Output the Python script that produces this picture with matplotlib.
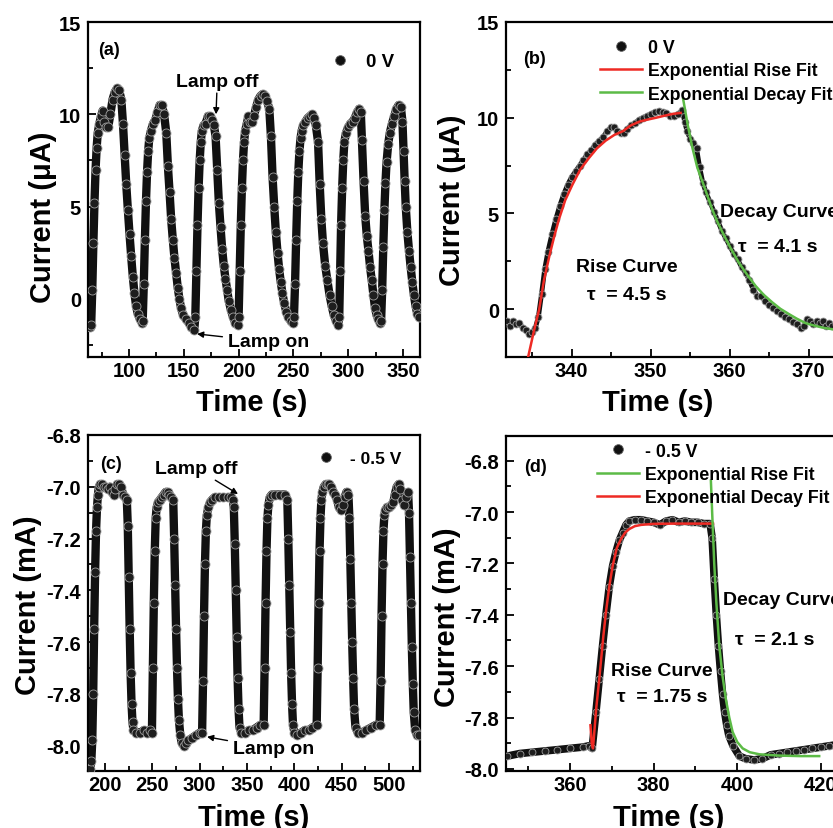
import matplotlib
matplotlib.use("Agg")
import matplotlib.pyplot as plt
from matplotlib.lines import Line2D
from matplotlib.ticker import MultipleLocator, FormatStrFormatter

plt.rcParams['font.family'] = ['Liberation Sans', 'DejaVu Sans']
plt.rcParams['font.weight'] = 'bold'
plt.rcParams['axes.labelweight'] = 'bold'

# ---------------- data: panel (a), 0 V, on/off cycles ----------------
a_time = [64, 65.5, 66.5, 67.5, 68.5, 69.5, 70.5, 71.5, 73, 74.5, 76, 77.5, 79, 81, 83, 85, 87, 89, 91, 93,
          94.5, 96, 97.5, 99, 100.5, 102, 103.5, 105, 106.5, 108, 110, 112,
          112.5, 113.5, 114.5, 115.5, 116.5, 117.5, 118.5, 120, 122, 124, 126, 128, 130, 132,
          134, 135.5, 137, 138.5, 140, 141.5, 143, 144.5, 146, 147.5, 149.5, 152, 154.5, 157, 159.5,
          160.5, 161.5, 162.5, 163.5, 164.5, 165.5, 166.5, 168, 170, 172, 174, 176, 177.5,
          179, 180.5, 182, 183.5, 185, 186.5, 188, 189.5, 191, 193, 195, 197, 199,
          200, 201, 202, 203, 204, 205, 206, 207.5, 209, 210.5, 212, 214, 216, 218, 220, 222, 224, 226, 228,
          229.5, 231, 232.5, 234, 235.5, 237, 238.5, 240, 241.5, 243.5, 245.5, 247.5, 249.5,
          250.5, 251.5, 252.5, 253.5, 254.5, 255.5, 256.5, 257.5, 259, 261, 263, 265, 267, 269, 270.5,
          272.5, 274, 275.5, 277, 279, 281, 283, 285, 287, 289, 291,
          291.8, 292.6, 293.5, 294.5, 295.5, 296.5, 298, 300, 302, 304, 306, 308, 310, 311.5,
          312.5, 314, 315.5, 317, 318.5, 320, 321.5, 323, 324.5, 326, 327.5, 329,
          330, 331, 332, 333, 334, 335, 336.5, 338, 340, 342, 344, 346, 348, 349.5,
          350.5, 351.5, 352.5, 354, 355.5, 357, 358.5, 360, 361.5, 363, 365]
a_curr = [-1.5, -1.4, 0.5, 3.0, 5.2, 7.0, 8.2, 9.0, 9.5, 9.9, 10.2, 9.6, 9.3, 9.3, 10.0, 10.8, 11.2, 11.4, 11.3, 10.8,
          9.5, 7.8, 6.2, 4.8, 3.5, 2.3, 1.2, 0.3, -0.4, -0.8, -1.1, -1.3,
          -1.2, 0.8, 3.2, 5.3, 6.9, 8.0, 8.7, 9.1, 9.5, 9.7, 10.1, 10.5, 10.5, 10.0,
          9.0, 7.2, 5.8, 4.3, 3.2, 2.2, 1.4, 0.6, 0.0, -0.5, -0.9, -1.1, -1.3, -1.5, -1.7,
          -1.0, 1.5, 4.0, 6.0, 7.5, 8.5, 9.1, 9.4, 9.5, 9.9, 9.9, 9.7, 9.4,
          8.8, 7.0, 5.2, 3.9, 2.7, 1.8, 1.1, 0.5, -0.1, -0.6, -1.0, -1.3, -1.4,
          -1.0, 1.5, 4.0, 6.0, 7.5, 8.5, 9.1, 9.5, 9.9, 9.6, 9.6, 9.9, 10.4, 10.8, 11.0, 11.1, 11.0, 10.7, 10.3,
          8.8, 6.6, 5.0, 3.6, 2.5, 1.6, 0.9, 0.3, -0.2, -0.7, -1.0, -1.2, -1.3,
          -1.0, 0.8, 3.2, 5.3, 6.9, 8.0, 8.7, 9.1, 9.4, 9.6, 9.8, 9.9, 10.0, 9.8, 9.4,
          8.5, 6.2, 4.3, 3.0, 1.8, 1.0, 0.2, -0.4, -0.9, -1.2, -1.4,
          -1.0, 1.5, 4.0, 6.0, 7.5, 8.5, 9.0, 9.3, 9.5, 9.6, 9.8, 10.1, 10.3, 10.1,
          8.6, 6.4, 4.5, 3.4, 2.6, 1.7, 1.0, 0.2, -0.5, -0.9, -1.1, -1.3,
          -1.2, 0.5, 2.8, 4.8, 6.3, 7.4, 8.4, 9.0, 9.5, 9.9, 10.3, 10.5, 10.4, 9.6,
          8.0, 6.4, 5.0, 3.6, 2.6, 1.7, 0.9, 0.2, -0.4, -0.8, -1.0]

# ---------------- data: panel (b), one 0 V cycle with fits ----------------
b_time = [331.8, 332.2, 332.6, 333.0, 333.4, 333.8, 334.2, 334.6, 335.0, 335.4, 335.8, 336.2, 336.6, 337.0,
          337.5, 338.0, 338.5, 339.0, 339.5, 340.0, 340.5, 341.0, 341.5, 342.0, 342.5, 343.0, 343.5, 344.0,
          344.5, 345.0, 345.4, 345.8, 346.2, 346.6, 347.0, 347.5, 348.0, 348.5, 349.0, 349.5, 350.0, 350.5,
          351.0, 351.5, 352.0, 352.5, 353.0, 353.5, 354.0, 354.3, 354.6, 355.0, 355.4, 355.8, 356.2, 356.6,
          357.0, 357.5, 358.0, 358.5, 359.0, 359.5, 360.0, 360.5, 361.0, 361.5, 362.0, 362.5, 363.0, 363.5,
          364.0, 364.5, 365.0, 365.5, 366.0, 366.5, 367.0, 367.5, 368.0, 368.5, 369.0, 369.4, 369.8, 370.2,
          370.6, 371.0, 371.4, 371.8, 372.2, 372.6, 373.0, 373.5]
b_curr = [-0.6, -0.9, -0.6, -0.8, -0.7, -1.0, -1.1, -1.3, -1.2, -1.0, -0.4, 0.8, 2.1, 3.0,
          3.9, 4.7, 5.4, 6.0, 6.5, 6.9, 7.2, 7.5, 7.8, 8.1, 8.3, 8.6, 8.8, 9.0,
          9.3, 9.5, 9.5, 9.3, 9.2, 9.2, 9.4, 9.6, 9.7, 9.9, 10.0, 10.1, 10.2, 10.3,
          10.35, 10.3, 10.25, 10.1, 10.1, 10.2, 10.4, 9.8, 9.3, 8.9, 8.7, 8.4, 7.4, 6.6,
          6.1, 5.6, 5.1, 4.6, 4.1, 3.7, 3.3, 2.9, 2.6, 2.2, 1.9, 1.5, 1.0, 0.7,
          0.7, 0.4, 0.2, 0.05, -0.1, -0.25, -0.4, -0.5, -0.65, -0.8, -1.0, -0.9, -0.5, -0.6,
          -0.8, -0.6, -0.7, -0.6, -0.9, -0.7, -0.9, -0.8]
b_rise_t = [334.5, 335.2, 335.9, 336.5, 337.2, 337.8, 338.4, 339.2, 340.1, 341.1, 342.2, 343.2, 344.3,
            345.4, 346.5, 347.5, 348.6, 349.6, 350.7, 351.7, 352.8, 353.8]
b_rise_v = [-2.5, -1.2, 0.0, 1.5, 2.8, 3.8, 4.7, 5.7, 6.5, 7.3, 7.9, 8.4, 8.8,
            9.1, 9.3, 9.6, 9.8, 9.9, 10.0, 10.1, 10.2, 10.25]
b_decay_t = [354.1, 354.7, 355.3, 355.9, 356.6, 357.2, 357.8, 358.4, 359.1, 360.1, 361.2, 362.2, 363.3,
             364.3, 365.4, 366.4, 367.5, 368.5, 369.6, 370.7, 371.8, 373.0, 374.0]
b_decay_v = [11.0, 9.6, 8.4, 7.4, 6.6, 5.9, 5.2, 4.6, 4.0, 3.2, 2.4, 1.8, 1.2,
             0.75, 0.35, 0.02, -0.26, -0.5, -0.73, -0.86, -0.97, -1.05, -1.12]

# ---------------- data: panel (c), -0.5 V, on/off cycles ----------------
c_time = [183, 184.5, 185.5, 186.5, 187.5, 188.5, 189.5, 190.5, 191.5, 192.5, 193.5, 195, 197, 199, 201, 203,
          205, 207, 209, 211, 213, 215, 217, 219, 221, 223,
          224, 225, 226, 227, 228, 229, 230, 233, 237, 241, 244, 247, 249.5,
          250.5, 251.5, 252.5, 253.5, 254.5, 256, 258, 260, 262, 264, 266, 268, 270, 272,
          273, 274, 275, 276, 277, 278, 279.5, 281, 283, 285, 288, 292, 296, 300, 302.5,
          303.5, 304.5, 305.5, 306.5, 307.5, 309, 311, 313, 316, 320, 325, 330, 333, 335,
          336, 337, 338, 339, 340, 341, 342, 344, 348, 352, 356, 360, 364, 367.5,
          368.5, 369.5, 370.5, 371.5, 372.5, 374, 376, 380, 385, 390, 392.5,
          393.5, 394.5, 395.5, 396.5, 397.5, 398.5, 400, 403, 407, 411, 415, 419, 423.5,
          424.5, 425.5, 426.5, 427.5, 428.5, 429.5, 431, 433, 435, 437, 439, 441, 443, 445, 447, 449,
          451, 453, 455, 457,
          458, 459, 460, 461, 462, 463, 464.5, 467, 471, 476, 481, 486, 490,
          491, 492, 493, 494, 495, 496, 497.5, 500, 502.5, 504.5, 506, 508, 510, 512, 514, 516, 518, 520,
          521, 522, 523, 524, 525, 526, 527.5, 529.5, 532]
c_curr = [-8.1, -8.09, -8.06, -7.98, -7.8, -7.55, -7.33, -7.17, -7.08, -7.03, -7.0, -6.99, -6.99, -7.0, -7.0, -7.01,
          -7.0, -7.02, -7.03, -7.01, -6.99, -6.99, -7.0, -7.03, -7.04, -7.05,
          -7.15, -7.35, -7.55, -7.72, -7.84, -7.91, -7.94, -7.95, -7.95, -7.94, -7.95, -7.94, -7.95,
          -7.7, -7.45, -7.25, -7.12, -7.08, -7.06, -7.05, -7.04, -7.03, -7.02, -7.02, -7.03, -7.04, -7.05,
          -7.2, -7.38, -7.55, -7.7, -7.82, -7.9, -7.96, -7.99, -8.0, -7.99, -7.98, -7.97, -7.96, -7.95, -7.95,
          -7.75, -7.5, -7.3, -7.17, -7.11, -7.08, -7.06, -7.05, -7.04, -7.04, -7.04, -7.04, -7.04, -7.05,
          -7.08, -7.22, -7.4, -7.58, -7.74, -7.86, -7.93, -7.95, -7.95, -7.94, -7.94, -7.93, -7.92, -7.92,
          -7.7, -7.45, -7.25, -7.12, -7.07, -7.04, -7.03, -7.03, -7.03, -7.03, -7.05,
          -7.2, -7.38, -7.56, -7.72, -7.84, -7.92, -7.95, -7.96, -7.95, -7.94, -7.94, -7.93, -7.92,
          -7.7, -7.45, -7.25, -7.12, -7.05, -7.02, -7.0, -6.99, -6.99, -6.99, -7.0, -7.02, -7.03, -7.05, -7.08, -7.09,
          -7.07, -7.04, -7.02, -7.03,
          -7.12, -7.28, -7.45, -7.6, -7.74, -7.86, -7.93, -7.95, -7.95, -7.94, -7.93, -7.92, -7.92,
          -7.75, -7.5, -7.3, -7.17, -7.11, -7.09, -7.08, -7.08, -7.07, -7.06, -7.03, -7.0, -6.99, -7.01, -7.05, -7.07, -7.04, -7.02,
          -7.1, -7.27, -7.45, -7.62, -7.76, -7.87, -7.94, -7.96, -7.96]

# ---------------- data: panel (d), one -0.5 V cycle with fits ----------------
d_time = [345, 348, 351, 354, 357, 360, 363, 364.5, 365.3, 366.2, 367, 367.8, 368.6, 369.4, 370.2, 371, 371.8,
          372.6, 373.4, 374.2, 375.5, 377, 378.5, 380, 381.5, 383, 384.5, 386, 387.5, 389, 390.5, 392, 393.5,
          394, 394.5, 395, 395.5, 396, 396.5, 397, 397.5, 398, 399, 400.5, 402, 404, 406, 408, 410, 412, 414,
          416, 418, 420, 422, 424]
d_curr = [-7.95, -7.94, -7.935, -7.93, -7.925, -7.92, -7.915, -7.91, -7.92, -7.78, -7.65, -7.52, -7.40, -7.29,
          -7.21, -7.155, -7.11, -7.08, -7.05, -7.035, -7.03, -7.03, -7.035, -7.04, -7.05, -7.035, -7.03, -7.04,
          -7.035, -7.04, -7.04, -7.045, -7.045, -7.1, -7.26, -7.4, -7.52, -7.62, -7.71, -7.78, -7.83, -7.87,
          -7.91, -7.95, -7.96, -7.965, -7.96, -7.945, -7.94, -7.935, -7.93, -7.925, -7.92, -7.915, -7.91, -7.905]
d_rise_t = [364.9, 365.2, 365.5, 365.8, 366.3, 367.0, 368.0, 368.6, 369.4, 370.2, 371.2, 372.2, 373.2, 374.2,
            375.5, 377.0, 380.0, 385.0, 390.0, 394.2]
d_rise_v = [-7.83, -7.90, -7.92, -7.86, -7.76, -7.65, -7.48, -7.39, -7.29, -7.21, -7.14, -7.105, -7.08, -7.066,
            -7.055, -7.05, -7.046, -7.045, -7.045, -7.045]
d_decay_t = [393.7, 394.0, 394.5, 395.0, 395.7, 396.5, 397.3, 398.1, 398.9, 400.0, 401.3, 403.0, 405.3, 410.0,
             415.0, 419.6]
d_decay_v = [-6.878, -7.0, -7.2, -7.35, -7.52, -7.64, -7.73, -7.80, -7.856, -7.895, -7.92, -7.935, -7.943,
             -7.948, -7.95, -7.95]

RED = '#ee2a24'
GREEN = '#5cbb46'
TICK_FS = 14.5
LABEL_FS = 21
NOTE_FS = 14
LEG_FS = 12.8

fig = plt.figure(figsize=(8.33, 8.29), dpi=100)
W, H = 833.0, 829.0


def make_ax(x0, top, w, h):
    return fig.add_axes([x0 / W, (H - top - h) / H, w / W, h / H])


ax_a = make_ax(88, 23, 332, 335)
ax_b = make_ax(506, 23, 332, 335)
ax_c = make_ax(88, 436, 332, 336)
ax_d = make_ax(506, 437, 332, 335)


def style(ax, xmaj, xmin, ymaj, ymin):
    for s in ax.spines.values():
        s.set_linewidth(1.6)
    ax.xaxis.set_major_locator(MultipleLocator(xmaj))
    ax.xaxis.set_minor_locator(MultipleLocator(xmin))
    ax.yaxis.set_major_locator(MultipleLocator(ymaj))
    ax.yaxis.set_minor_locator(MultipleLocator(ymin))
    ax.tick_params(which='both', direction='in', top=False, right=False, width=1.3, labelsize=TICK_FS)
    ax.tick_params(which='major', length=6)
    ax.tick_params(which='minor', length=3.5)
    ax.tick_params(axis='x', pad=3)
    ax.tick_params(axis='y', pad=5)
    for lab in ax.get_xticklabels() + ax.get_yticklabels():
        lab.set_fontweight('bold')


def data_curve(ax, t, v, lw, ms):
    ax.plot(t, v, '-', color='#111111', lw=lw, solid_capstyle='round', zorder=2)
    ax.plot(t, v, 'o', ms=ms, mfc='#1e1e1e', mec='#a0a0a0', mew=0.6, zorder=3)


dot = Line2D([], [], ls='none', marker='o', ms=7, mfc='#111111', mec='#666666', mew=0.6)
h_r = Line2D([], [], color=RED, lw=1.8)
h_g = Line2D([], [], color=GREEN, lw=1.8)
arrow = dict(arrowstyle='-|>', color='black', lw=1.0, mutation_scale=9, shrinkA=0, shrinkB=0)
arrow2 = dict(arrowstyle='-|>', color='black', lw=1.0, mutation_scale=9, shrinkA=2, shrinkB=0)
fit_leg = dict(loc='upper left', frameon=False, fontsize=LEG_FS, handlelength=2.35,
               handletextpad=0.34, labelspacing=0.34, borderpad=0, borderaxespad=0)

# ---------- (a) ----------
ax = ax_a
data_curve(ax, a_time, a_curr, 6.0, 6.5)
ax.set_xlim(62.6, 365.5)
ax.set_ylim(-3.15, 15)
style(ax, 50, 25, 5, 2.5)
ax.set_xlabel('Time (s)', fontsize=LABEL_FS)
ax.set_ylabel('Current (\u03bcA)', fontsize=LABEL_FS)
ax.text(0.03, 0.919, '(a)', transform=ax.transAxes, fontsize=13, va='center', ha='left')
ax.legend([dot], ['0 V'], loc='center left', bbox_to_anchor=(0.725, 0.881), frameon=False,
          fontsize=13.5, handlelength=1.2, handletextpad=0.8, borderpad=0, borderaxespad=0)
ax.annotate('Lamp off', xy=(179.4, 10.0), xytext=(180.5, 11.3), fontsize=NOTE_FS, ha='center', va='bottom',
            arrowprops=arrow)
ax.annotate('Lamp on', xy=(162.1, -1.9), xytext=(190.3, -2.33), fontsize=NOTE_FS, ha='left', va='center',
            arrowprops=arrow2)

# ---------- (b) ----------
ax = ax_b
data_curve(ax, b_time, b_curr, 3.5, 5)
ax.plot(b_rise_t, b_rise_v, color=RED, lw=1.8, zorder=4)
ax.plot(b_decay_t, b_decay_v, color=GREEN, lw=1.8, zorder=4)
ax.set_xlim(331.7, 373.7)
ax.set_ylim(-2.5, 15)
style(ax, 10, 5, 5, 2.5)
ax.set_xlabel('Time (s)', fontsize=LABEL_FS)
ax.set_ylabel('Current (\u03bcA)', fontsize=LABEL_FS)
ax.text(0.051, 0.89, '(b)', transform=ax.transAxes, fontsize=13, va='center', ha='left')
ax.legend([dot, h_r, h_g], ['0 V', 'Exponential Rise Fit', 'Exponential Decay Fit'],
          bbox_to_anchor=(0.283, 0.948), **fit_leg)
ax.text(0.364, 0.269, 'Rise Curve', transform=ax.transAxes, fontsize=NOTE_FS, ha='center', va='center')
ax.text(0.364, 0.188, '\u03c4  = 4.5 s', transform=ax.transAxes, fontsize=NOTE_FS, ha='center', va='center')
ax.text(0.645, 0.433, 'Decay Curve', transform=ax.transAxes, fontsize=NOTE_FS, ha='left', va='center')
ax.text(0.819, 0.331, '\u03c4  = 4.1 s', transform=ax.transAxes, fontsize=NOTE_FS, ha='center', va='center')

# ---------- (c) ----------
ax = ax_c
data_curve(ax, c_time, c_curr, 6.0, 6.5)
ax.set_xlim(182, 532.6)
ax.set_ylim(-8.098, -6.8)
style(ax, 50, 25, 0.2, 0.1)
ax.yaxis.set_major_formatter(FormatStrFormatter('%.1f'))
ax.set_xlabel('Time (s)', fontsize=LABEL_FS)
ax.set_ylabel('Current (mA)', fontsize=LABEL_FS)
ax.text(0.036, 0.914, '(c)', transform=ax.transAxes, fontsize=13, va='center', ha='left')
ax.legend([dot], ['- 0.5 V'], loc='center left', bbox_to_anchor=(0.685, 0.929), frameon=False,
          fontsize=12.5, handlelength=1.2, handletextpad=0.8, borderpad=0, borderaxespad=0)
ax.annotate('Lamp off', xy=(340.4, -7.028), xytext=(340.4, -6.931), fontsize=NOTE_FS, ha='right', va='center',
            arrowprops=arrow)
ax.annotate('Lamp on', xy=(307.7, -7.966), xytext=(335.1, -8.013), fontsize=NOTE_FS, ha='left', va='center',
            arrowprops=arrow2)

# ---------- (d) ----------
ax = ax_d
data_curve(ax, d_time, d_curr, 5.5, 5)
ax.plot(d_rise_t, d_rise_v, color=RED, lw=1.8, zorder=4)
ax.plot(d_decay_t, d_decay_v, color=GREEN, lw=1.8, zorder=4)
ax.set_xlim(344.7, 424.1)
ax.set_ylim(-8.008, -6.704)
style(ax, 20, 10, 0.2, 0.1)
ax.yaxis.set_major_formatter(FormatStrFormatter('%.1f'))
ax.set_xlabel('Time (s)', fontsize=LABEL_FS)
ax.set_ylabel('Current (mA)', fontsize=LABEL_FS)
ax.text(0.054, 0.91, '(d)', transform=ax.transAxes, fontsize=13, va='center', ha='left')
ax.legend([dot, h_g, h_r], ['- 0.5 V', 'Exponential Rise Fit', 'Exponential Decay Fit'],
          bbox_to_anchor=(0.274, 0.98), **fit_leg)
ax.text(0.47, 0.299, 'Rise Curve', transform=ax.transAxes, fontsize=NOTE_FS, ha='center', va='center')
ax.text(0.47, 0.221, '\u03c4  = 1.75 s', transform=ax.transAxes, fontsize=NOTE_FS, ha='center', va='center')
ax.text(0.654, 0.513, 'Decay Curve', transform=ax.transAxes, fontsize=NOTE_FS, ha='left', va='center')
ax.text(0.81, 0.394, '\u03c4  = 2.1 s', transform=ax.transAxes, fontsize=NOTE_FS, ha='center', va='center')

# axis label placement
lab = {ax_a: ((0.494, -0.134), (-0.1355, 0.421)),
       ax_b: ((0.458, -0.134), (-0.1636, 0.472)),
       ax_c: ((0.5, -0.137), (-0.18, 0.497)),
       ax_d: ((0.491, -0.137), (-0.179, 0.463))}
for ax, (xl, yl) in lab.items():
    ax.xaxis.label.set_va('center')
    ax.yaxis.label.set_va('center')
    ax.xaxis.set_label_coords(*xl)
    ax.yaxis.set_label_coords(*yl)

fig.savefig('out.png', dpi=100)
